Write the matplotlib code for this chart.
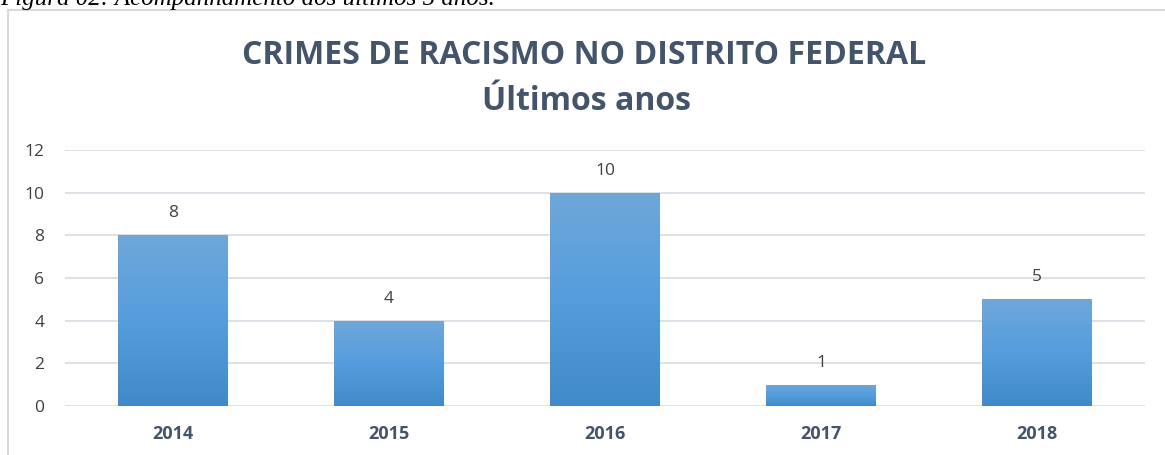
import matplotlib
matplotlib.use("Agg")
import matplotlib.pyplot as plt
import numpy as np
from matplotlib.patches import Rectangle
from matplotlib.colors import LinearSegmentedColormap

years = ["2014", "2015", "2016", "2017", "2018"]
values = [8, 4, 10, 1, 5]
yticks = [0, 2, 4, 6, 8, 10, 12]
title_line1 = "CRIMES DE RACISMO NO DISTRITO FEDERAL"
title_line2 = "Últimos anos"
caption = "Figura 02: Acompanhamento dos últimos 5 anos."

W, H = 1165, 455
fig = plt.figure(figsize=(W / 100, H / 100), dpi=100)
fig.patch.set_facecolor("white")

# caption (cropped at the top edge, as in the reference)
fig.text(0 / W, 1 - 5 / H, caption, family="Liberation Serif", style="italic",
         fontsize=18, color="black", ha="left", va="baseline")

# chart frame
frame = Rectangle((8 / W, -0.05), 1.2, (H - 10) / H + 0.05, transform=fig.transFigure,
                  fill=False, edgecolor="#D9D9D9", lw=1.5)
fig.add_artist(frame)

title_color = "#44546A"
fig.text(584 / W, 1 - 56 / H, title_line1, family="Open Sans", weight="bold",
         fontsize=23, color=title_color, ha="center", va="center")
fig.text(587 / W, 1 - 101 / H, title_line2, family="Open Sans", weight="bold",
         fontsize=23, color=title_color, ha="center", va="center")

ax = fig.add_axes([65 / W, 1 - 406 / H, (1145 - 65) / W, (406 - 150) / H])
ax.set_xlim(-0.5, len(years) - 0.5)
ax.set_ylim(0, 12)
x = np.arange(len(years))
bars = ax.bar(x, values, width=0.505, color="#5B9BD5", zorder=2)

cmap = LinearSegmentedColormap.from_list("g", ["#418AC9", "#559DDD", "#6FA7DA"])
grad = np.linspace(0, 1, 256).reshape(-1, 1)
for b in bars:
    x0, y0 = b.get_x(), b.get_y()
    w, h = b.get_width(), b.get_height()
    im = ax.imshow(grad, cmap=cmap, aspect="auto", origin="lower",
                   extent=(x0, x0 + w, y0, y0 + h), zorder=3)
    im.set_clip_path(b)
    b.set_alpha(0)
ax.set_xlim(-0.5, len(years) - 0.5)
ax.set_ylim(0, 12)

for xi, v in zip(x, values):
    ax.annotate(str(v), (xi, v), xytext=(0, 10), textcoords="offset points",
                ha="center", va="bottom", family="Open Sans", fontsize=12.5,
                color="#404040")

ax.set_yticks(yticks)
ax.set_yticklabels([str(t) for t in yticks], family="Open Sans", fontsize=12.5,
                   color="#404040")
ax.set_xticks(x)
ax.set_xticklabels(years, family="Open Sans", weight="bold", fontsize=13,
                   color=title_color)
ax.tick_params(axis="both", length=0)
ax.tick_params(axis="y", pad=15)
ax.tick_params(axis="x", pad=14)
ax.grid(axis="y", color="#D9DEE6", lw=1.3, zorder=0)
ax.set_axisbelow(True)
for s in ax.spines.values():
    s.set_visible(False)

fig.savefig("out.png", dpi=100, facecolor="white")
